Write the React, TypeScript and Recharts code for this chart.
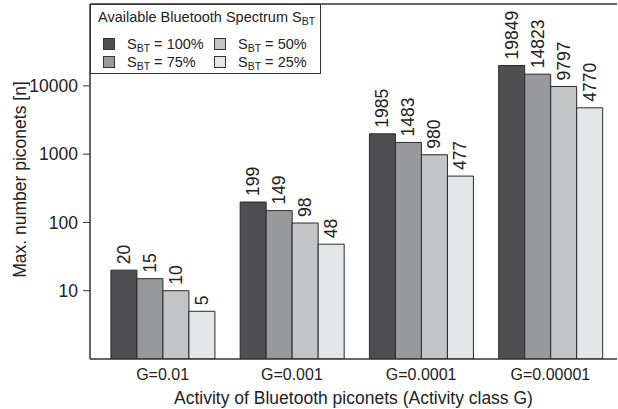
import { BarChart, Bar, XAxis, YAxis, LabelList, ReferenceLine } from 'recharts';

const categories = ['G=0.01', 'G=0.001', 'G=0.0001', 'G=0.00001'];
const s100 = [20, 199, 1985, 19849];
const s75 = [15, 149, 1483, 14823];
const s50 = [10, 98, 980, 9797];
const s25 = [5, 48, 477, 4770];
const yTicks = [10, 100, 1000, 10000];
const yDomain = [1, 158000];

const data = categories.map((g, i) => ({
  g,
  s100: s100[i],
  s75: s75[i],
  s50: s50[i],
  s25: s25[i],
}));

const series = [
  { key: 's100', pct: '100%', fill: '#4f4f51' },
  { key: 's75', pct: '75%', fill: '#98999b' },
  { key: 's50', pct: '50%', fill: '#c3c4c6' },
  { key: 's25', pct: '25%', fill: '#e5e6e7' },
];

const font = "'Liberation Sans', Arial, sans-serif";

function Sbt() {
  return (
    <span>
      S<sub style={{ fontSize: 10.5, verticalAlign: '-3px', lineHeight: 0 }}>BT</sub>
    </span>
  );
}

// legend drawn as an overlay so it doesn't eat plot height
function LegendBox() {
  return (
    <div
      style={{
        position: 'absolute',
        left: 90,
        top: 4,
        width: 229,
        height: 68,
        border: '1px solid #333',
        background: '#fff',
        fontFamily: font,
        fontSize: 14.5,
        color: '#222',
      }}
    >
      <div style={{ padding: '4px 0 0 7px', lineHeight: '16px' }}>
        Available Bluetooth Spectrum <Sbt />
      </div>
      <div
        style={{
          display: 'grid',
          gridTemplateColumns: '111px 100px',
          gridAutoFlow: 'column',
          gridTemplateRows: '18px 18px',
          padding: '10px 0 0 12px',
        }}
      >
        {series.map((s) => (
          <div key={s.key} style={{ display: 'flex', alignItems: 'center', lineHeight: '16px' }}>
            <span
              style={{
                display: 'inline-block',
                width: 10,
                height: 10,
                background: s.fill,
                border: '1px solid #333',
                marginRight: 12,
              }}
            />
            <span>
              <Sbt /> = {s.pct}
            </span>
          </div>
        ))}
      </div>
    </div>
  );
}

function BarValue(props: any) {
  const { x, y, width, value } = props;
  const cx = x + width / 2;
  const ty = y - 6;
  return (
    <text
      x={cx}
      y={ty}
      transform={`rotate(-90 ${cx} ${ty})`}
      textAnchor="start"
      dominantBaseline="central"
      fontSize={17.5}
      fontFamily={font}
      fill="#222"
    >
      {value}
    </text>
  );
}

function YTitle(props: any) {
  const vb = props.viewBox;
  const cy = vb.y + vb.height / 2 - 2;
  const cx = 20;
  return (
    <text
      x={cx}
      y={cy}
      transform={`rotate(-90 ${cx} ${cy})`}
      textAnchor="middle"
      dominantBaseline="central"
      fontSize={17.5}
      fontFamily={font}
      fill="#222"
    >
      Max. number piconets [n]
    </text>
  );
}

export default function App() {
  return (
    <div style={{ position: 'absolute', left: 0, top: 0, width: 618, height: 409, background: '#fff' }}>
      <BarChart
        width={618}
        height={409}
        data={data}
        margin={{ top: 4, right: 1, bottom: 0, left: 0 }}
        barCategoryGap="10%"
        barGap={0}
      >
        <XAxis
          dataKey="g"
          height={50}
          tickLine={false}
          tickMargin={4}
          axisLine={{ stroke: '#333', strokeWidth: 1.5 }}
          padding={{ left: 8, right: 2 }}
          tick={{ fontSize: 16, fontFamily: font, fill: '#222' }}
          label={{
            value: 'Activity of Bluetooth piconets (Activity class G)',
            position: 'insideBottom',
            offset: 5,
            fontSize: 17.5,
            fontFamily: font,
            fill: '#222',
          }}
        />
        <YAxis
          scale="log"
          domain={yDomain}
          allowDataOverflow
          ticks={yTicks}
          width={90}
          tickSize={7}
          tickMargin={5}
          tickLine={{ stroke: '#333' }}
          axisLine={{ stroke: '#333', strokeWidth: 1.5 }}
          tick={{ fontSize: 17.5, fontFamily: font, fill: '#222' }}
          label={YTitle}
        />
        <ReferenceLine y={yDomain[1]} stroke="#333" strokeWidth={1.5} />
        {series.map((s) => (
          <Bar
            key={s.key}
            dataKey={s.key}
            fill={s.fill}
            stroke="#2a2a2a"
            strokeWidth={1}
            isAnimationActive={false}
          >
            <LabelList dataKey={s.key} content={BarValue} />
          </Bar>
        ))}
      </BarChart>
      <LegendBox />
    </div>
  );
}
